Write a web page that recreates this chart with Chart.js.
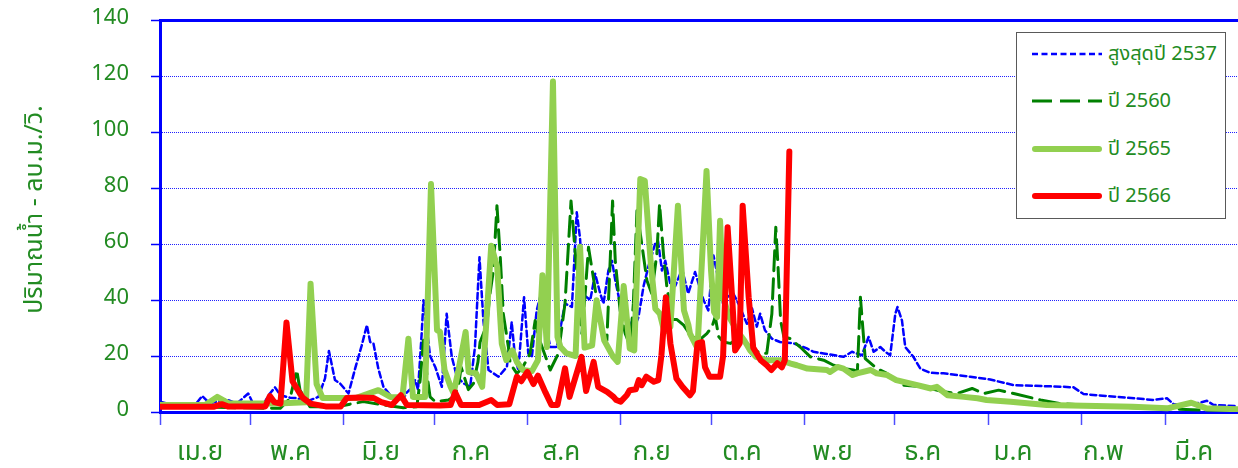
<!DOCTYPE html>
<html><head><meta charset="utf-8">
<script src="https://cdn.jsdelivr.net/npm/chart.js@4.4.1/dist/chart.umd.min.js"></script>
<style>
html,body{margin:0;padding:0;background:#fff;}
#wrap{position:relative;width:1238px;height:468px;overflow:hidden;}
#legend{position:absolute;left:1016px;top:32px;width:210px;height:187px;border:1px solid #595959;background:#fff;box-sizing:border-box;}
.row{position:absolute;left:15px;height:30px;display:flex;align-items:center;white-space:nowrap;}
.row svg{width:70px;height:12px;margin-right:6px;flex:none}
.row span{font-size:20px;color:#228b22;font-family:Tahoma,"Leelawadee UI","Noto Sans Thai","Loma","Garuda","Waree","Norasi","DejaVu Sans",sans-serif;}
</style></head>
<body>
<div id="wrap"><canvas id="c" width="1238" height="468"></canvas><div id="legend"></div></div>
<script>
// ---- data (day index from 1 April, value in million m3/day) ----
const seriesNames = ['สูงสุดปี 2537', 'ปี 2560', 'ปี 2565', 'ปี 2566'];
const monthLabels = ['เม.ย','พ.ค','มิ.ย','ก.ค','ส.ค','ก.ย','ต.ค','พ.ย','ธ.ค','ม.ค','ก.พ','มี.ค'];
const monthStarts = [0,30,61,91,122,153,183,214,244,275,306,334];
const yTicks = [0,20,40,60,80,100,120,140];

const maxDays = [0,3.3,7.6,12,14,16.5,22,25.5,29.3,31,34.3,36.5,38.2,40,43.2,45.4,48.7,52.6,54.8,56.1,58.1,59.8,62.6,64.8,67,68.7,69.8,70.9,72.5,74.2,77,80.8,82,84,84.7,85.7,86.9,87.5,89.7,91.4,93.6,95.2,96.9,98.6,100.8,103,104.6,106.1,107.4,109.1,112.4,115.2,116.8,117.9,119,120.9,122.3,123.5,125.1,126.8,128.5,129.6,131.8,134.5,136.8,138.4,139.5,140.5,142.9,144.5,146.2,147.3,148.9,150.1,151.2,152.8,155,157.2,158.9,160.6,162.2,164.4,165.4,166.7,167.8,169.4,171.1,173.4,175.4,177.7,180.5,182.1,183.8,185.5,187,188.3,190.4,192.1,194.9,196.6,198.2,199.3,200.9,203.2,205.9,210.4,214.8,217,220.4,227,229.8,233.1,235.3,237,239.2,240.9,242.5,244.2,244.9,246.4,247.5,250.2,252.5,255.8,260.2,269.1,275.7,283.5,300.1,303.4,306.7,317.8,330,334.4,336.6,343.3,347.7,349.9,358];
const maxVals = [3.7,2.8,2.5,3,5.7,3.1,4.5,3.0,6.6,2.8,2.8,6.6,8.8,6,5.1,5,3.7,5.4,12,21.8,11.4,10.2,6.6,15.5,23.8,31,25,24.4,15.5,9,5.4,4.7,7,9,11.4,8,28,39.9,20,16.1,9,35.1,19.7,12.6,10.2,9,23.2,55.3,32.7,15,12.6,16.1,32.1,19.7,15,41,20.9,19.7,36.3,43.4,29.2,23.2,23.2,38.7,37.5,71.3,62,42,40,49.4,42.3,38.7,50.5,54,47,38.7,33.9,29.2,33.9,45,52,60,61,50.5,54,46,45,51,42.3,50,40,36.3,55.9,47,38.7,41,42.3,38.7,31.5,37,30.5,35.1,29.2,26.2,25,24.5,22.7,21.5,20.9,19.7,21.5,20.3,26.8,21.5,23.2,21.5,20.3,35.1,37.5,32.7,23.2,19.7,15.5,14,13.8,12.6,11.6,9.6,9,8.8,6.4,5.4,4.3,4.9,2.8,2.8,4,2.5,2.1];

const y2560Days = [0,5.3,7.6,26.6,39.9,43.2,45.4,46.5,49.8,58.7,63.1,67.5,74.2,80.8,85.3,86.4,87.5,88.6,89.7,91.4,95.8,97.4,99.1,100,102.4,104.1,105.6,106.3,108.5,109.6,110.7,111.9,113,114,115.7,116.3,118.5,120.2,122.9,124.6,125.7,127.3,129.6,132.3,134.5,135.6,136.5,137.3,138.4,139,140.1,141.2,142.3,143.9,145.6,147.3,148.4,149.5,150.3,151.2,152.8,154.5,156.1,157.2,158.4,160,161.7,163.3,165,165.9,167.2,168.3,170,171.7,173.9,176.1,178.9,181.6,183.3,184.4,185.5,187.1,189.4,191.6,193.8,196,199.3,201.5,203.2,204.5,205.2,206.1,207.2,209.3,212.6,216,220.4,223.7,227,230.3,231.6,232.6,234.2,238.1,241.4,246.9,253.6,260.2,264.7,269.7,273.5,278.5,283.5,292.4,299,323.2,334.4,345.5,358];
const y2560Vals = [3.1,2.8,1.9,1.5,1.3,4.9,15,7.8,1.9,1.9,2.8,3.7,2.5,1.5,1.9,11.4,25.6,13.8,5.4,3.7,4.3,5.4,9,16,8,10.2,17.9,25,31,42.3,50.5,73.7,55.3,35.1,23.2,17.3,13.8,15.5,20.9,32.7,26.8,22,15,20.9,38.7,58.8,75.4,64.8,50.5,39.9,28,42.3,58.8,48.1,36.3,26.8,25.6,54,75.4,54,36.3,28,23.8,38.7,71.9,60,47,42.3,56.5,74.3,56.5,45,33,33,31,27.5,25.5,28,30.4,34,27,25,24.5,26,26,23.2,21,21,35.1,66,52.9,32.7,26.8,26.2,23.2,19.7,18.5,16.7,15.5,15,14.5,41,19.1,15.5,13.8,9.6,9,7.2,6.6,8.4,6.6,7.8,6.6,4.3,3,1.5,1.2,0.7,0.7];

const y2565Days = [0,15,19,23,39,48.5,50,52,54,65,72.5,76.5,80.5,82.5,84,88,90,92,93,94.5,96.5,97.5,99,101.5,102.5,105,107,110,112,113.5,115,117,118.5,120.5,123.5,125.5,127,128.5,130.5,132,133,135,138,139.5,141,143.5,145,147.5,150.5,152,154,156,157.5,159.5,161,163,164.5,166,167.5,169.5,172,174,175.5,176,178.5,181.5,183,184,185,186,187,189,191.5,194,196,198,201.5,206,209.5,211.5,215,221.5,222.5,225,227,230,231.5,236,238,241.5,244.5,251.5,256,258,261.5,267,271.5,274.5,282.5,294.5,323,334.5,342.5,347.5,358];
const y2565Vals = [2.5,2.5,5.4,3,3,3.5,45.8,10,5,5,7.8,5.4,5.2,26.2,5.4,5.4,81.4,29.2,28.6,15,9,6.7,14.3,28.6,14.3,13.8,9,59.4,51.7,24.4,18.5,22,17.9,15,14.6,18.5,48.8,23.2,118,26.8,23.2,20.9,20,59,23,23.8,39.9,25.6,19.7,17.9,45,22.7,22,83.2,82.6,52.9,36.9,35.1,28.6,30.4,73.7,36.3,31,28,22.7,86.1,50.5,35.7,33.9,68.3,41,34,29.2,25.6,22,19.7,18.5,18.5,17.3,16.7,15.5,15,14.3,16.1,15.5,13.2,13.8,15,13.8,13.2,11.4,9.6,8.4,9,6,5.4,4.9,4.3,3.7,2.5,1.9,1.3,3.3,1.3,1.0];

const y2566Days = [0,18,20.5,22.5,35,36.5,38,40,42,44,46.5,47.5,50,55,60,62,66.5,71,73.5,77,80,82,93,96.5,98,100,106,110,112,116,118.5,120,122,124,125.5,128,130,132,134.5,136,140,141.5,144,145.5,148.5,150.5,151.5,153,155,156,158,159,160,161.5,164,165.5,166.5,168,169.5,171.5,173.5,176,177,178.5,180,181,182.5,186,187,188.5,190,191,192.5,193.5,195.5,197,199.5,201.5,203,205,206.5,207.5,209];
const y2566Vals = [1.9,1.9,2.8,2.0,2.0,5.7,3.5,3.0,32,11,6.5,5,3,2,2,5,5.2,5,3.5,2.5,6,2.5,2.3,2.5,7,2.5,2.5,4.3,2.5,2.8,12.6,11,14.3,10,13,7,2.5,2.5,15.6,5.4,19.7,7.5,17.9,9,7.2,5.5,4.3,3.7,6,7.8,8.1,11.4,9.6,12.6,10.8,11.4,20,41,24.5,12,9,6,7.5,24.5,25,16,12.6,12.6,20,66,41,22,24.5,73.7,41,23,18.5,16.7,15,17.4,16,18.5,93];

// ---- chart ----
const THAI = 'Tahoma, "Leelawadee UI", "Noto Sans Thai", Loma, Garuda, Waree, Norasi, "DejaVu Sans", sans-serif';
const GREEN = '#228b22';
const BLUE = '#0000ff';
const X_MAX = 358;
const pts = (d, v) => d.map((x, i) => ({x, y: v[i]}));

Chart.defaults.font.family = THAI;

const styles = [
  {color: '#0000ff', width: 2.5, dash: [6, 3.5], order: 3},
  {color: '#008000', width: 3, dash: [20, 8], order: 2},
  {color: '#92d050', width: 6, dash: [], order: 1},
  {color: '#ff0000', width: 6, dash: [], order: 0}
];
const raw = [[maxDays, maxVals], [y2560Days, y2560Vals], [y2565Days, y2565Vals], [y2566Days, y2566Vals]];

const datasets = raw.map((r, i) => ({
  label: seriesNames[i],
  data: pts(r[0], r[1]),
  borderColor: styles[i].color,
  borderWidth: styles[i].width,
  borderDash: styles[i].dash,
  borderCapStyle: 'round',
  borderJoinStyle: 'round',
  pointRadius: 0,
  tension: 0,
  fill: false,
  order: styles[i].order
}));

new Chart(document.getElementById('c'), {
  type: 'line',
  data: {datasets},
  options: {
    responsive: false,
    devicePixelRatio: 1,
    animation: false,
    events: [],
    layout: {padding: {top: 20, left: 0, right: 0, bottom: 0}},
    plugins: {legend: {display: false}, tooltip: {enabled: false}},
    scales: {
      x: {
        type: 'linear', position: 'bottom', min: 0, max: X_MAX, weight: 0,
        afterBuildTicks: s => { s.ticks = monthStarts.map(v => ({value: v})); },
        afterFit: s => { s.height = 13; s.paddingLeft = 0; s.paddingRight = 0; },
        ticks: {display: false},
        grid: {display: true, drawOnChartArea: false, drawTicks: true, tickLength: 13, tickColor: '#4d4dff', tickWidth: 1.5},
        border: {display: true, color: BLUE, width: 3}
      },
      xl: {
        type: 'linear', position: 'bottom', min: 0, max: X_MAX, weight: 1,
        afterBuildTicks: s => { s.ticks = monthLabels.map((m, i) => ({value: 13.3 + 30 * i})); },
        afterFit: s => { s.height = 43; s.paddingLeft = 0; s.paddingRight = 0; },
        ticks: {
          autoSkip: false, maxRotation: 0, padding: 6, color: GREEN,
          font: {size: 26, family: THAI},
          callback: (v, i) => monthLabels[i]
        },
        grid: {display: false},
        border: {display: false}
      },
      xt: {
        type: 'linear', position: 'top', min: 0, max: X_MAX,
        afterFit: s => { s.height = 0; s.paddingLeft = 0; s.paddingRight = 0; },
        ticks: {display: false},
        grid: {display: false, drawTicks: false},
        border: {display: true, color: BLUE, width: 3}
      },
      y: {
        type: 'linear', min: 0, max: 140,
        afterBuildTicks: s => { s.ticks = yTicks.map(v => ({value: v})); },
        afterFit: s => { s.width = 160; s.paddingTop = 0; s.paddingBottom = 0; },
        ticks: {color: GREEN, padding: 22, font: {size: 22, family: THAI}},
        grid: {color: '#2020ff', lineWidth: 1, drawTicks: true, tickLength: 9, tickColor: BLUE, tickWidth: 1.5},
        border: {display: true, color: BLUE, width: 3, dash: [1, 1]},
        title: {display: true, text: '  ปริมาณน้ำ - ลบ.ม./วิ.', color: GREEN, font: {size: 25, family: THAI}, padding: {top: 22, bottom: 0}}
      }
    }
  }
});

// ---- legend (HTML, built from series names and styles) ----
const leg = document.getElementById('legend');
const rowTops = [6, 53, 101, 148];
seriesNames.forEach((name, i) => {
  const st = styles[i];
  const row = document.createElement('div');
  row.className = 'row';
  row.style.top = rowTops[i] + 'px';
  const cap = st.dash.length ? 'butt' : 'round';
  row.innerHTML = '<svg viewBox="0 0 70 12"><line x1="' + (cap === 'round' ? 3 : 0) + '" y1="6" x2="' + (cap === 'round' ? 67 : 70) + '" y2="6" stroke="' + st.color + '" stroke-width="' + st.width + '" stroke-linecap="' + cap + '"' + (st.dash.length ? ' stroke-dasharray="' + st.dash.join(',') + '"' : '') + '/></svg><span>' + name + '</span>';
  leg.appendChild(row);
});
</script>
</body></html>
